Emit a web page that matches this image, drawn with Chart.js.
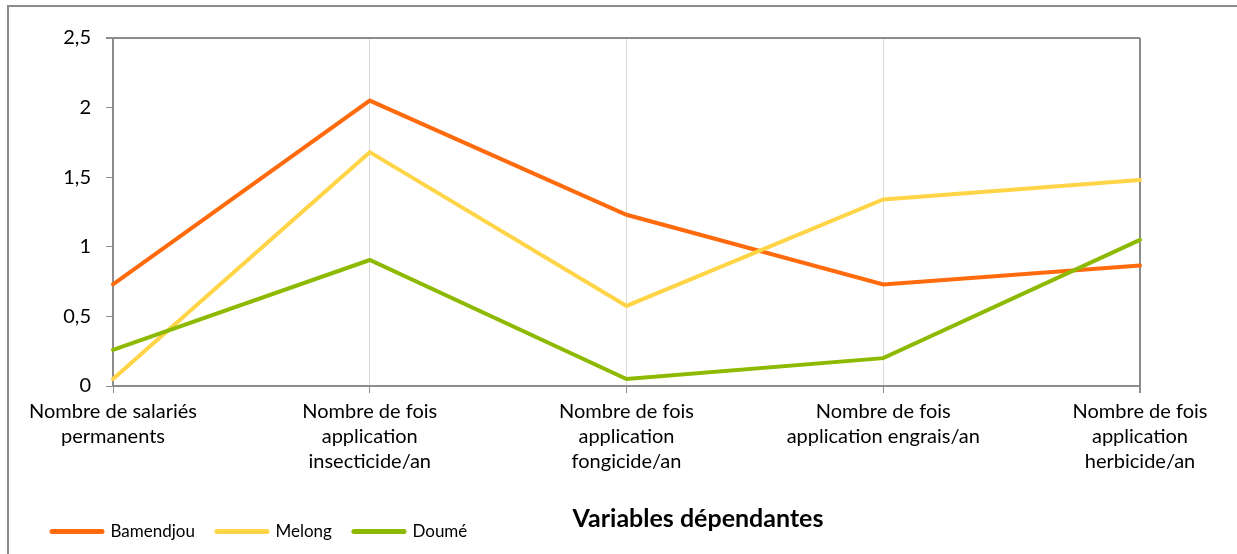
<!DOCTYPE html>
<html>
<head>
<meta charset="utf-8">
<script src="https://cdn.jsdelivr.net/npm/chart.js@4/dist/chart.umd.min.js"></script>
<style>
  html, body { margin: 0; padding: 0; background: #fff; }
  #wrap { position: relative; width: 1237px; height: 554px; overflow: hidden; }
  #frame {
    position: absolute; left: 7px; top: 5px; width: 1300px; height: 600px;
    border-top: 2px solid #8c8c8c; border-left: 2px solid #8c8c8c;
  }
  #c { position: absolute; left: 0; top: 0; }
</style>
</head>
<body>
<div id="wrap">
  <div id="frame"></div>
  <canvas id="c" width="1237" height="554"></canvas>
</div>
<script>
const categories = [
  ['Nombre de salariés', 'permanents'],
  ['Nombre de fois', 'application', 'insecticide/an'],
  ['Nombre de fois', 'application', 'fongicide/an'],
  ['Nombre de fois', 'application engrais/an'],
  ['Nombre de fois', 'application', 'herbicide/an']
];
const bamendjou = [0.73, 2.05, 1.23, 0.73, 0.865];
const melong = [0.05, 1.68, 0.575, 1.34, 1.48];
const doume = [0.26, 0.905, 0.05, 0.2, 1.05];
const yMin = 0, yMax = 2.5, yStep = 0.5;
const axisTitle = 'Variables dépendantes';

const FONT = 'Lato, "Open Sans", sans-serif';
const AXIS = '#8c8c8c';

// bold caption under the category labels, right of the legend
const axisTitlePlugin = {
  id: 'axisTitle',
  afterDraw(chart) {
    const ctx = chart.ctx;
    ctx.save();
    ctx.font = 'bold 25px ' + FONT;
    ctx.fillStyle = '#000';
    ctx.textAlign = 'center';
    ctx.textBaseline = 'middle';
    ctx.fillText(axisTitle, 698, 519);
    ctx.restore();
  }
};

function series(label, data, color, order) {
  return {
    label: label,
    data: data,
    borderColor: color,
    backgroundColor: color,
    borderWidth: 4,
    borderCapStyle: 'round',
    borderJoinStyle: 'miter',
    pointRadius: 0,
    pointHoverRadius: 0,
    pointStyle: 'line',
    tension: 0,
    order: order
  };
}

new Chart(document.getElementById('c'), {
  type: 'line',
  data: {
    labels: categories,
    datasets: [
      series('Bamendjou', bamendjou, '#ff6a0d', 2),
      series('Melong', melong, '#ffd447', 1),
      series('Doumé', doume, '#8dba00', 0)
    ]
  },
  options: {
    responsive: false,
    devicePixelRatio: 1,
    animation: false,
    layout: { padding: { left: 30, right: 97, top: 38, bottom: 4 } },
    plugins: {
      tooltip: { enabled: false },
      title: { display: false },
      legend: {
        position: 'bottom',
        align: 'start',
        labels: {
          usePointStyle: true,
          pointStyleWidth: 50,
          padding: 22,
          color: '#000',
          font: { family: FONT, size: 17 },
          sort: (a, b) => a.datasetIndex - b.datasetIndex,
          generateLabels(chart) {
            return chart.data.datasets.map((ds, i) => ({
              text: ds.label,
              datasetIndex: i,
              fillStyle: ds.borderColor,
              strokeStyle: ds.borderColor,
              lineWidth: 5,
              lineCap: 'round',
              pointStyle: 'line',
              fontColor: '#000',
              hidden: false
            }));
          }
        }
      }
    },
    scales: {
      x: {
        offset: false,
        afterFit(scale) { scale.height = 115; },
        border: { color: AXIS, width: 2 },
        grid: {
          color: ctx => ctx.index === categories.length - 1 ? AXIS : '#d9d9d9',
          lineWidth: ctx => ctx.index === categories.length - 1 ? 2 : 1,
          tickColor: AXIS,
          tickLength: 7,
          drawOnChartArea: true
        },
        ticks: {
          autoSkip: false,
          maxRotation: 0,
          minRotation: 0,
          padding: 6,
          color: '#000',
          font: { family: FONT, size: 20, lineHeight: 1.25 }
        }
      },
      y: {
        min: yMin,
        max: yMax,
        afterFit(scale) { scale.width = 83; },
        border: { color: AXIS, width: 2 },
        grid: {
          color: ctx => ctx.tick && ctx.tick.value === yMax ? AXIS : 'rgba(0,0,0,0)',
          lineWidth: ctx => ctx.tick && ctx.tick.value === yMax ? 2 : 1,
          tickColor: AXIS,
          tickLength: 7,
          drawOnChartArea: true
        },
        ticks: {
          stepSize: yStep,
          padding: 15,
          color: '#000',
          font: { family: FONT, size: 20 },
          callback: v => String(v).replace('.', ',')
        }
      }
    }
  },
  plugins: [axisTitlePlugin]
});
</script>
</body>
</html>
